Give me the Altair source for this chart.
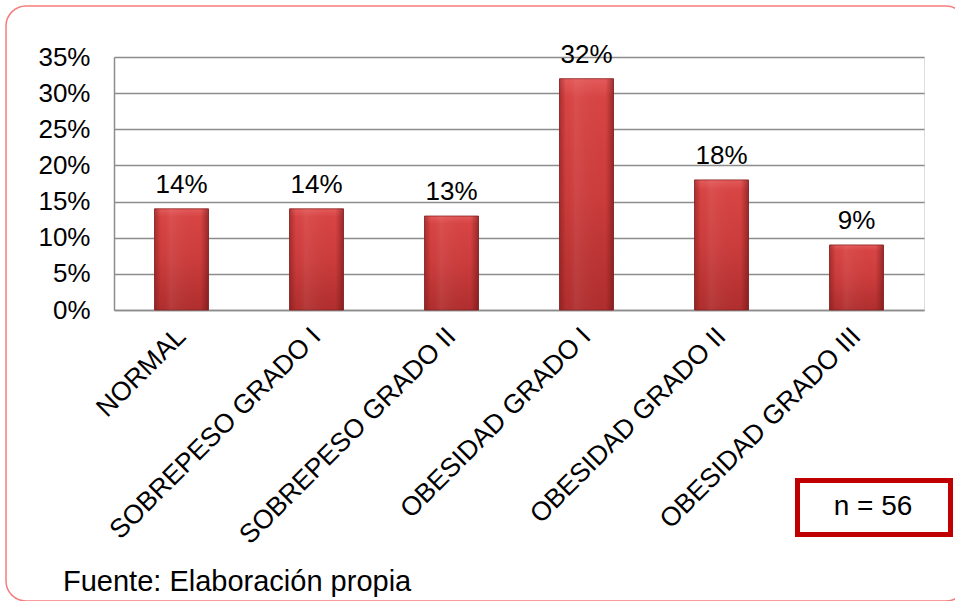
import altair as alt
import pandas as pd

categories = ["NORMAL", "SOBREPESO GRADO I", "SOBREPESO GRADO II",
              "OBESIDAD GRADO I", "OBESIDAD GRADO II", "OBESIDAD GRADO III"]
values = [0.14, 0.14, 0.13, 0.32, 0.18, 0.09]
y_ticks = [0, 0.05, 0.10, 0.15, 0.20, 0.25, 0.30, 0.35]
sample_note = ["n = 56"]
source_note = ["Fuente: Elaboración propia"]

df = pd.DataFrame({"cat": categories, "value": values})

FONT = "Liberation Sans"

x_enc = alt.X("cat:N", sort=categories, title=None,
              scale=alt.Scale(paddingInner=0.6, paddingOuter=0.3),
              axis=alt.Axis(labelAngle=-45, labelAlign="right", labelBaseline="middle",
                            labelPadding=22, labelFontSize=26.5, labelColor="black",
                            labelLimit=0, ticks=False, tickSize=0, labelOverlap=False,
                            domainColor="#8c8c8c", domainWidth=1.5, labelFont=FONT))
y_enc = alt.Y("value:Q", title=None,
              scale=alt.Scale(domain=[0, 0.35], nice=False),
              axis=alt.Axis(values=y_ticks, format=".0%", labelFontSize=26,
                            labelColor="black", labelPadding=24, ticks=False, tickSize=0,
                            labelOverlap=False,
                            gridColor="#8c8c8c", gridWidth=1.5, domainColor="#8c8c8c",
                            domainWidth=1.5, labelFont=FONT))

vert_grad = alt.Gradient(
    gradient="linear", x1=0, x2=0, y1=0, y2=1,
    stops=[alt.GradientStop(color="#e45a5a", offset=0),
           alt.GradientStop(color="#d84444", offset=0.08),
           alt.GradientStop(color="#cc3c3c", offset=0.5),
           alt.GradientStop(color="#b02e2e", offset=1)])
horiz_grad = alt.Gradient(
    gradient="linear", x1=0, x2=1, y1=0, y2=0,
    stops=[alt.GradientStop(color="rgba(110,20,20,0.45)", offset=0),
           alt.GradientStop(color="rgba(110,20,20,0)", offset=0.12),
           alt.GradientStop(color="rgba(255,255,255,0.06)", offset=0.3),
           alt.GradientStop(color="rgba(110,20,20,0)", offset=0.85),
           alt.GradientStop(color="rgba(90,15,15,0.5)", offset=1)])

base = alt.Chart(df)

border = alt.Chart(pd.DataFrame({"k": [0]})).mark_rect(
    fillOpacity=0, stroke="#f77c7c", strokeWidth=1.5, cornerRadius=20
).encode(x=alt.value(-108), x2=alt.value(852), y=alt.value(-51), y2=alt.value(544))

bars = base.mark_bar(color=vert_grad, stroke="#8a1e1e", strokeWidth=0.8).encode(x=x_enc, y=y_enc)
shade = base.mark_bar(color=horiz_grad).encode(x=x_enc, y=y_enc)

labels = base.mark_text(fontSize=26, font=FONT, color="black", baseline="alphabetic", dy=-16).encode(
    x=x_enc, y=y_enc, text=alt.Text("value:Q", format=".0%"))

nbox = alt.Chart(pd.DataFrame({"k": [0]})).mark_rect(
    fillOpacity=0, stroke="#c00000", strokeWidth=5
).encode(x=alt.value(683.5), x2=alt.value(836.5), y=alt.value(423.5), y2=alt.value(477.5))

ntext = alt.Chart(pd.DataFrame({"t": sample_note})).mark_text(
    fontSize=28, font=FONT, color="black", align="center", baseline="middle"
).encode(x=alt.value(759), y=alt.value(450), text="t:N")

src = alt.Chart(pd.DataFrame({"t": source_note})).mark_text(
    fontSize=29, font=FONT, color="black", align="left", baseline="alphabetic"
).encode(x=alt.value(-51), y=alt.value(534), text="t:N")

chart = alt.layer(border, bars, shade, labels, nbox, ntext, src).properties(
    width=810, height=253,
    autosize=alt.AutoSizeParams(type="none"),
    padding={"left": 114, "top": 57, "right": 31, "bottom": 291},
    background="white",
).configure_view(stroke=None).configure(font=FONT)

chart.save("out.html", embed_options={"renderer": "svg", "actions": False})
